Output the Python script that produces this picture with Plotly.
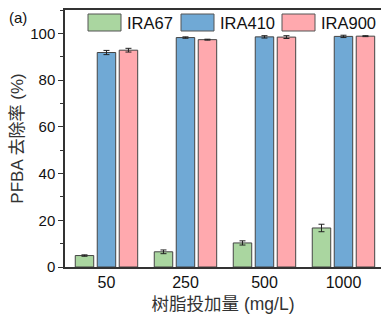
import plotly.graph_objects as go

categories = ["50", "250", "500", "1000"]
series_names = ["IRA67", "IRA410", "IRA900"]
ira67 = [4.9, 6.5, 10.3, 16.7]
ira67_err = [0.3, 0.8, 0.9, 1.6]
ira410 = [91.8, 98.2, 98.5, 98.7]
ira410_err = [0.9, 0.3, 0.5, 0.5]
ira900 = [92.8, 97.3, 98.4, 98.8]
ira900_err = [0.8, 0.2, 0.6, 0.2]
y_ticks = [0, 20, 40, 60, 80, 100]

colors = ["#AAD6A0", "#70A9D5", "#FFA9AE"]
values = [ira67, ira410, ira900]
errors = [ira67_err, ira410_err, ira900_err]
xpos = list(range(len(categories)))

W, H = 381, 316
ML, MR, MT, MB = 65, 0, 10, 49
PW, PH = W - ML - MR, H - MT - MB

fig = go.Figure()
for name, v, e, c in zip(series_names, values, errors, colors):
    fig.add_trace(go.Bar(
        x=xpos, y=v, name=name,
        marker=dict(color=c, line=dict(color="#444444", width=1)),
        error_y=dict(type="data", array=e, color="#222222", thickness=1, width=3),
    ))

# legend drawn as wide swatches with text labels (as in the reference)
legend_px = [88, 181, 282]
shapes, annotations = [], []
for name, c, px in zip(series_names, colors, legend_px):
    x0 = (px - ML) / PW
    x1 = (px + 33 - ML) / PW
    y1 = (H - MB - 14) / PH
    y0 = (H - MB - 31) / PH
    shapes.append(dict(type="rect", xref="paper", yref="paper", x0=x0, x1=x1, y0=y0, y1=y1,
                       fillcolor=c, line=dict(color="#555555", width=1)))
    annotations.append(dict(text=name, xref="paper", yref="paper", x=(px + 37 - ML) / PW,
                            y=(y0 + y1) / 2, xanchor="left", yanchor="middle", showarrow=False,
                            font=dict(size=16.5)))
annotations.append(dict(text="(a)", xref="paper", yref="paper", x=(7 - ML) / PW, y=(H - MB - 17) / PH,
                        xanchor="left", yanchor="middle", showarrow=False, font=dict(size=15)))

font = "Liberation Sans, Arial, Noto Sans CJK SC, sans-serif"
fig.update_layout(
    width=W, height=H,
    margin=dict(l=ML, r=MR, t=MT, b=MB),
    barmode="group", bargap=0.165, bargroupgap=0.16,
    plot_bgcolor="white", paper_bgcolor="white",
    font=dict(family=font, size=15, color="#111111"),
    showlegend=False,
    xaxis=dict(
        tickmode="array", tickvals=xpos, ticktext=categories, automargin=False,
        range=[-0.525, 3.475], showline=True, linecolor="#333333", linewidth=1.5,
        mirror=True, ticks="", showgrid=False, zeroline=False,
        tickfont=dict(size=16),
        title=dict(text="树脂投加量 (mg/L)", font=dict(size=17.5, family="Liberation Sans, Noto Sans CJK SC", color="#333333"), standoff=8),
    ),
    yaxis=dict(
        range=[0, 110], tickvals=y_ticks, showline=True, linecolor="#333333", linewidth=1.5,
        automargin=False,
        ticks="outside", ticklen=5, tickwidth=1.2, tickcolor="#333333",
        minor=dict(ticks="outside", ticklen=3, dtick=10, tickcolor="#333333", tickwidth=1),
        showgrid=False, zeroline=False, tickfont=dict(size=15),
        title=dict(text="PFBA 去除率 (%)", font=dict(size=17, family="Liberation Sans, Noto Sans CJK SC", color="#333333"), standoff=2),
    ),
    shapes=shapes,
    annotations=annotations,
)
fig.write_html("out.html", config={"displayModeBar": False},
               post_script="document.body.style.margin='0';")
